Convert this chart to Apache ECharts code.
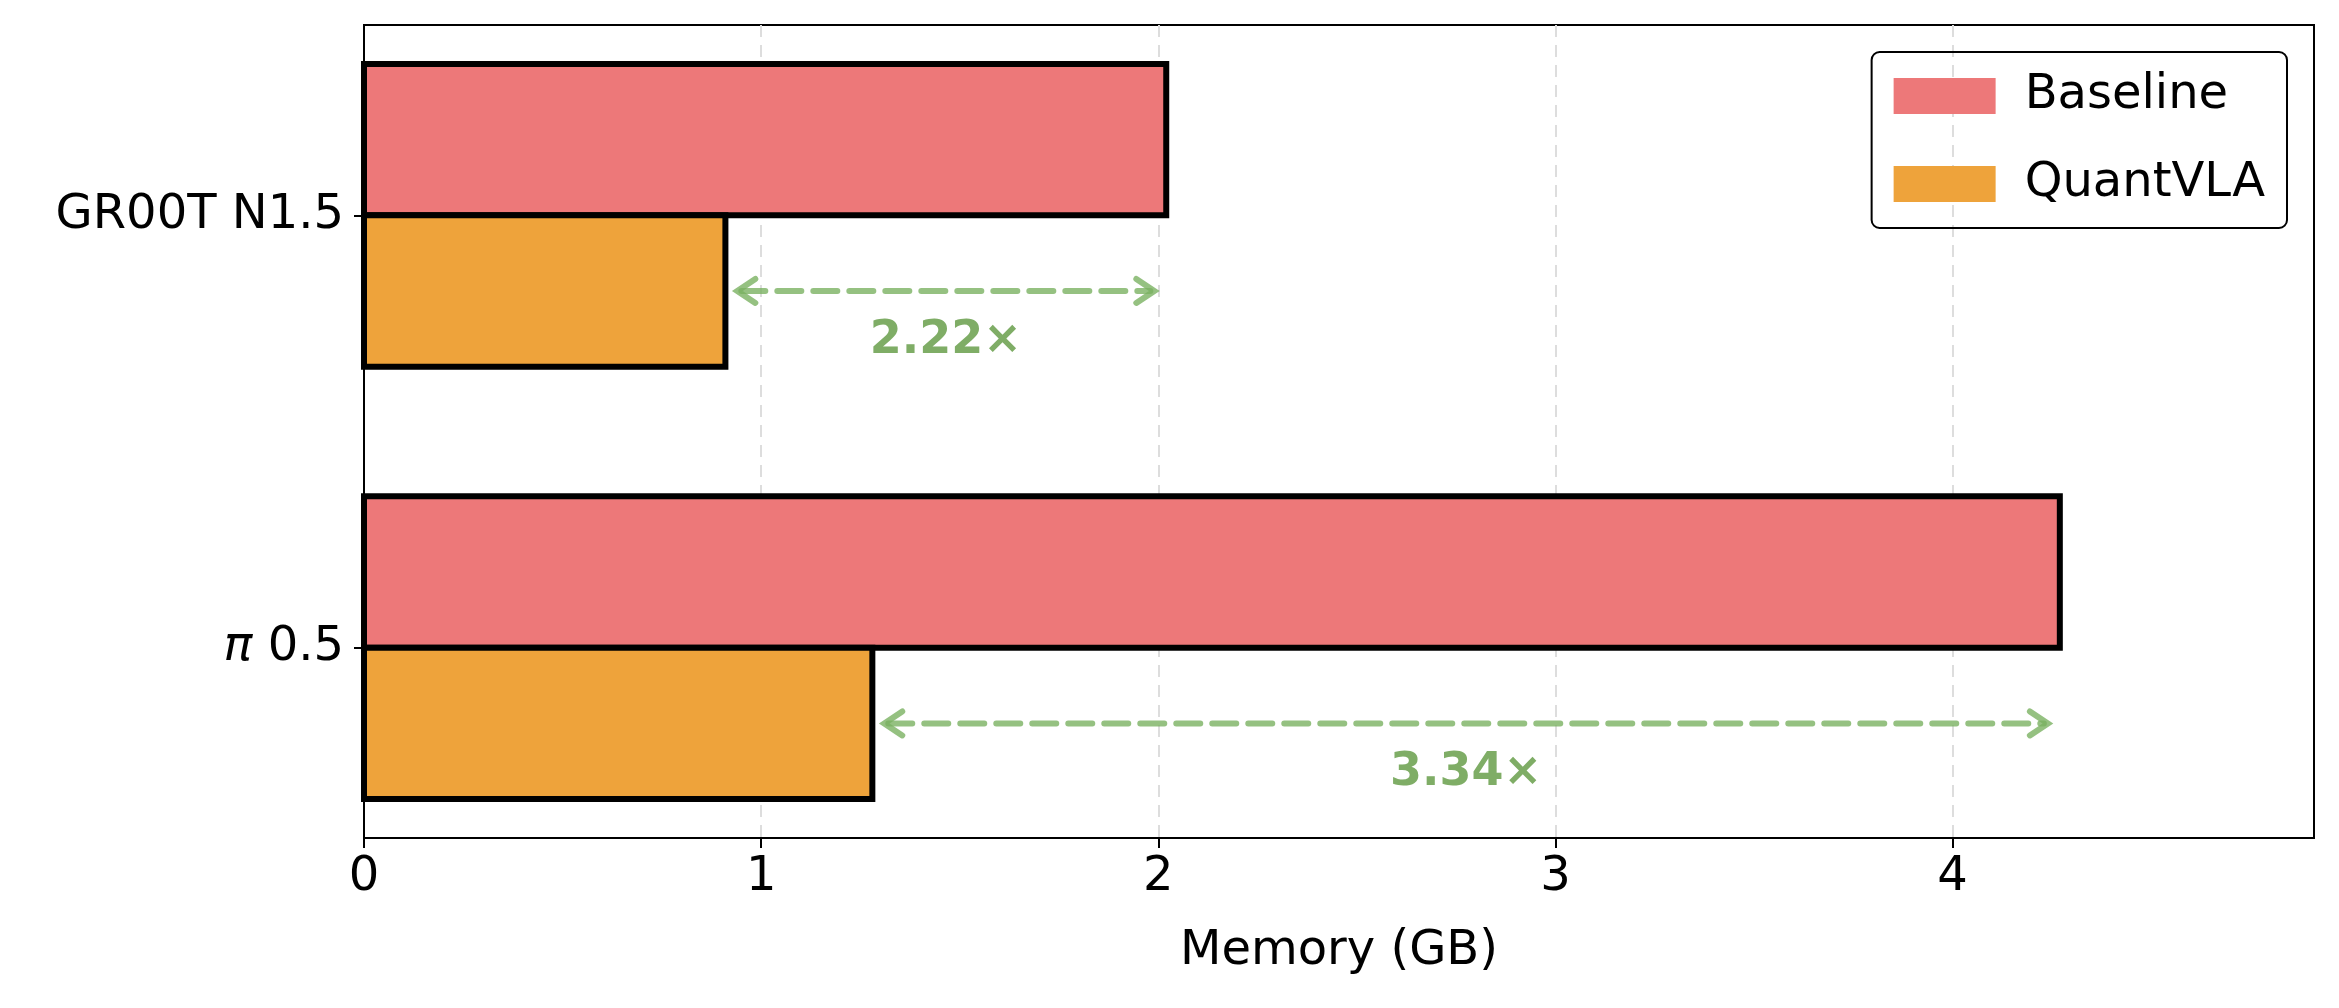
<!DOCTYPE html><html><head><meta charset="utf-8"><script src="https://cdn.jsdelivr.net/npm/echarts@6/dist/echarts.min.js"></script>
<style>html,body{margin:0;padding:0;background:#fff}#c{width:2339px;height:1008px}</style></head><body><div id="c"></div><script>
const models = ['π 0.5', 'GR00T N1.5'];
const modelPos = [0, 1];
const baseline = [4.27, 2.02];
const quantvla = [1.28, 0.91];
const speedups = ['3.34×', '2.22×'];
const xTicks = [0, 1, 2, 3, 4];
const H = 0.35;
const chart = echarts.init(document.getElementById('c'));
const F = 'DejaVu Sans';
function barSeries(name, vals, color, up) {
  return {
    name, type: 'custom', itemStyle: { color },
    data: vals.map((v, i) => [v, modelPos[i]]),
    renderItem(params, api) {
      const v = api.value(0), y = api.value(1);
      const p0 = api.coord([0, up ? y + H : y]);
      const p1 = api.coord([v, up ? y : y - H]);
      return { type: 'rect', shape: { x: p0[0], y: p0[1], width: p1[0] - p0[0], height: p1[1] - p0[1] },
        style: { fill: color, stroke: '#000', lineWidth: 6 } };
    }
  };
}
chart.setOption({
  animation: false,
  textStyle: { fontFamily: F },
  grid: { left: 364, right: 25, top: 25, bottom: 170, show: true, borderColor: '#000', borderWidth: 2 },
  legend: {
    right: 52, top: 52, orient: 'vertical', itemWidth: 102, itemHeight: 36, itemGap: 40,
    padding: [20, 22, 20, 22], borderColor: '#000', borderWidth: 2, borderRadius: 8,
    textStyle: { fontSize: 48, fontFamily: F, color: '#000', padding: [0, 0, 0, 24] },
    data: [{ name: 'Baseline', icon: 'rect' }, { name: 'QuantVLA', icon: 'rect' }]
  },
  xAxis: {
    type: 'value', min: 0, max: 4.91, interval: 1, name: 'Memory (GB)', nameLocation: 'middle', nameGap: 90,
    nameTextStyle: { fontSize: 48, color: '#000', fontFamily: F },
    axisLine: { show: true, onZero: false, lineStyle: { color: '#000', width: 2 } },
    axisTick: { show: true, length: 10, lineStyle: { color: '#000', width: 2 }, customValues: xTicks },
    axisLabel: { fontSize: 48, color: '#000', margin: 16, customValues: xTicks },
    splitLine: { show: true, lineStyle: { color: '#ddd', type: [12, 8], width: 2 } }
  },
  yAxis: {
    type: 'value', min: -0.44, max: 1.44,
    axisLine: { show: true, onZero: false, lineStyle: { color: '#000', width: 2 } },
    axisTick: { show: true, length: 10, lineStyle: { color: '#000', width: 2 }, customValues: modelPos },
    axisLabel: { fontSize: 48, color: '#000', margin: 20, customValues: modelPos,
      formatter: v => {
        const i = modelPos.indexOf(v); const s = models[i];
        return s.startsWith('π') ? '{i|π}' + s.slice(1) : s;
      },
      rich: { i: { fontSize: 48, fontStyle: 'italic', color: '#000' } } },
    splitLine: { show: false }
  },
  series: [
    barSeries('Baseline', baseline, '#ed7879', true),
    barSeries('QuantVLA', quantvla, '#eea33b', false),
    {
      type: 'custom', silent: true, legendHoverLink: false,
      data: baseline.map((b, i) => [quantvla[i], b, modelPos[i], speedups[i]]),
      renderItem(params, api) {
        const q = api.value(0), b = api.value(1), y = api.value(2);
        const a = api.coord([q + 0.03, y - 0.175]), c = api.coord([b - 0.03, y - 0.175]);
        const m = api.coord([(q + b) / 2, y - 0.29]);
        const col = 'rgba(122,178,98,0.8)', ah = 12;
        return { type: 'group', children: [
          { type: 'line', shape: { x1: a[0] + 4, y1: a[1], x2: c[0] - 4, y2: c[1] }, style: { stroke: col, lineWidth: 6, lineDash: [24, 12], lineCap: 'round' } },
          { type: 'polyline', shape: { points: [[a[0] + ah * 1.5, a[1] - ah], [a[0], a[1]], [a[0] + ah * 1.5, a[1] + ah]] }, style: { stroke: col, lineWidth: 6, fill: null, lineCap: 'round' } },
          { type: 'polyline', shape: { points: [[c[0] - ah * 1.5, c[1] - ah], [c[0], c[1]], [c[0] - ah * 1.5, c[1] + ah]] }, style: { stroke: col, lineWidth: 6, fill: null, lineCap: 'round' } },
          { type: 'text', x: m[0], y: m[1], style: { text: api.value(3), fill: '#7fad66', fontSize: 46, fontWeight: 'bold', fontFamily: F, align: 'center', verticalAlign: 'middle' } }
        ] };
      }
    }
  ]
});
</script></body></html>
